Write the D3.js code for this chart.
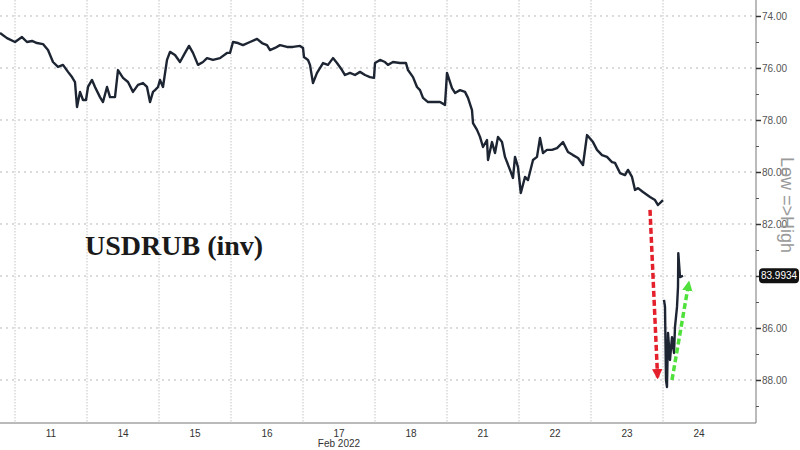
<!DOCTYPE html>
<html><head><meta charset="utf-8">
<script src="https://cdn.jsdelivr.net/npm/d3@7"></script>
<style>body{margin:0;background:#fff}svg{display:block}</style></head>
<body>
<svg id="c" width="800" height="450"></svg>
<script>
// ---- data ----
const dayLabels = ["11","14","15","16","17","18","21","22","23","24"];
const yTicks = [74,76,78,80,82,84,86,88];
const yMinor = [75,77,79,81,83,85,87,89];
const lastValue = 83.9934;
// trading-hours since Feb 11 00:00 (each trading day = 24 h on the axis)
const hours = [-5,-2.67,0,2.33,4,5.67,7.33,9.33,11,12.67,14.33,16,17.67,19,20,20.67,21.67,22.67,23.67,
  24.33,25.67,26.67,28.33,29.33,30.67,31.67,33.33,34.33,36,37.67,39.33,41,42.67,44,45,46,46.67,47.67,
  48.33,49.33,50.67,51.67,53.33,55,56.67,58,59.33,61,62.67,64,66,68.33,70.67,71.67,
  72.67,74.33,76,78.33,80.67,82.33,84,85,86.67,88.33,90.67,92.67,95,
  96,96.33,97.67,98.33,99.33,100.67,102.67,104.33,106,107.33,109,110,111.67,113.33,115,116.67,118.33,119.67,
  120,121.67,123.33,124.33,126,128.33,130.33,131,132.67,134,135,136,137.67,139.33,141.67,143.33,
  144,145.67,146.67,148.33,150,151,152.33,152.67,154,155,156,157.33,157.67,159,160,161,162.33,163.33,165,166,166.67,167.67,
  168.6,170,171,172.67,174,175,176,177.33,179,180.67,182.67,184.33,186,187.67,189.33,190.67,
  192.67,194,195.67,197.33,199,200,201.67,203.33,204.33,205.67,206.67,207.67,209.33,211.67,213.33,214.33,216,
  216.1,
  216.33,216.67,217,217.33,217.67,218.33,219,219.67,220,220.67,221,221.1,221.67,222.67];
const usdrub = [74.65,74.85,75.00,74.81,75.00,74.96,75.04,75.08,75.31,75.77,75.96,75.88,76.15,76.35,76.54,77.50,76.92,77.23,77.23,
  76.73,76.46,76.73,77.12,77.31,76.73,77.12,77.12,76.08,76.38,76.54,76.92,76.65,76.58,76.73,77.31,76.92,76.85,76.73,
  76.46,76.73,75.69,75.38,75.50,75.77,75.42,75.15,75.42,75.88,75.77,75.62,75.69,75.62,75.42,75.42,
  75.00,75.04,75.12,75.00,74.88,75.04,75.12,75.31,75.23,75.12,75.19,75.19,75.15,
  75.23,75.58,75.69,75.88,76.58,76.19,75.81,75.88,75.62,75.81,76.08,76.27,76.19,76.27,76.15,76.27,76.35,76.38,
  75.81,75.69,75.77,75.88,75.77,75.81,75.81,76.08,76.35,76.73,76.85,77.15,77.31,77.31,77.31,77.42,
  76.19,76.77,76.96,76.85,76.92,77.15,77.62,78.12,78.38,78.65,79.04,78.77,79.54,78.85,79.27,78.65,78.85,79.42,79.92,80.23,79.42,79.81,
  80.81,80.19,80.31,79.54,79.42,78.69,79.27,79.15,79.15,79.08,78.85,79.23,79.35,79.46,79.73,78.58,
  78.85,79.15,79.35,79.42,79.62,79.65,80.04,80.12,79.92,80.19,80.69,80.62,80.77,80.96,81.08,81.27,81.08,
  null,
  84.92,85.19,88.00,88.27,86.19,87.23,86.35,86.96,85.96,85.19,84.42,83.12,84.04,83.99];
const redArrow = [[211.67,81.46],[214.2,87.9]];
const greenArrow = [[219,88.0],[224.6,84.25]];

// ---- layout ----
const W = 800, H = 450;
const plotR = 756, plotB = 423;
const svg = d3.select("#c");
const x = d3.scaleLinear().domain([-5, 247]).range([0, plotR]);
const y = d3.scaleLinear().domain([73.385, 89.654]).range([0, plotB]);
const dayBounds = d3.range(0, dayLabels.length).map(i => i * 24);

// grid
svg.append("g").selectAll("line").data(yTicks).join("line")
  .attr("x1", 0).attr("x2", plotR).attr("y1", d => y(d)).attr("y2", d => y(d))
  .attr("stroke", "#b8b8b8").attr("stroke-dasharray", "2,4").attr("stroke-width", 1);
svg.append("g").selectAll("line").data(dayBounds).join("line")
  .attr("x1", d => x(d)).attr("x2", d => x(d)).attr("y1", 0).attr("y2", plotB)
  .attr("stroke", "#c4c4c4").attr("stroke-dasharray", "1.5,1.5").attr("stroke-width", 1);

// series
const pts = hours.map((h, i) => [h, usdrub[i]]);
const line = d3.line().defined(d => d[1] != null).x(d => x(d[0])).y(d => y(d[1]));
svg.append("path").datum(pts).attr("d", line)
  .attr("fill", "none").attr("stroke", "#1d2533").attr("stroke-width", 2.4).attr("stroke-linejoin", "round");

// arrows
const defs = svg.append("defs");
function marker(id, color) {
  defs.append("marker").attr("id", id).attr("viewBox", "0 0 10 10").attr("refX", 8).attr("refY", 5)
    .attr("markerWidth", 3).attr("markerHeight", 3).attr("orient", "auto")
    .append("path").attr("d", "M0,0L10,5L0,10z").attr("fill", color);
}
marker("mr", "#e3202b"); marker("mg", "#4fe03c");
function arrow(a, color, id) {
  svg.append("line").attr("x1", x(a[0][0])).attr("y1", y(a[0][1])).attr("x2", x(a[1][0])).attr("y2", y(a[1][1]))
    .attr("stroke", color).attr("stroke-width", 3.5).attr("stroke-dasharray", "6,3")
    .attr("marker-end", `url(#${id})`);
}
arrow(redArrow, "#e3202b", "mr");
arrow(greenArrow, "#4fe03c", "mg");

// axes frame
svg.append("line").attr("x1", 0).attr("x2", plotR).attr("y1", plotB).attr("y2", plotB).attr("stroke", "#777");
svg.append("line").attr("x1", plotR).attr("x2", plotR).attr("y1", 0).attr("y2", plotB).attr("stroke", "#777");

// right axis
const fam = "'Liberation Sans Narrow','Liberation Sans',Arial,sans-serif";
const yAxis = d3.axisRight(y).tickValues(yTicks).tickSize(5).tickFormat(d => d === 84 ? "" : d3.format(".2f")(d));
const ga = svg.append("g").attr("transform", `translate(${plotR},0)`).call(yAxis);
ga.select(".domain").remove();
ga.selectAll(".tick line").attr("stroke", "#333").attr("stroke-width", 1.5);
ga.selectAll(".tick text").attr("x", 6).attr("fill", "#555").style("font-family", fam).style("font-size", "10px");
const gm = svg.append("g").attr("transform", `translate(${plotR},0)`)
  .call(d3.axisRight(y).tickValues(yMinor).tickSize(3).tickFormat(""));
gm.select(".domain").remove();
gm.selectAll(".tick line").attr("stroke", "#555");

// last value box
const lv = svg.append("g").attr("transform", `translate(${plotR + 3},${y(lastValue)})`);
lv.append("rect").attr("x", 0).attr("y", -7.5).attr("width", 40).attr("height", 15).attr("rx", 4).attr("fill", "#111");
lv.append("text").attr("x", 20).attr("y", 3.5).attr("text-anchor", "middle").attr("fill", "#fff")
  .style("font-family", fam).style("font-size", "10px").text(d3.format(".4f")(lastValue));

// x labels
svg.append("g").selectAll("text").data(dayLabels).join("text")
  .attr("x", (d, i) => x(i * 24 + 12)).attr("y", 437).attr("text-anchor", "middle")
  .attr("fill", "#333").style("font-family", fam).style("font-size", "10px").text(d => d);
svg.append("text").attr("x", x(4 * 24 + 12)).attr("y", 447).attr("text-anchor", "middle")
  .attr("fill", "#333").style("font-family", fam).style("font-size", "10px").text("Feb 2022");

// annotations
svg.append("text").attr("x", 85).attr("y", 255).attr("fill", "#1a1a1a")
  .style("font-family", "'Liberation Serif','Times New Roman',serif").style("font-size", "28px").style("font-weight", "bold")
  .text("USDRUB (inv)");
svg.append("text").attr("transform", "translate(781,205) rotate(90)").attr("text-anchor", "middle")
  .attr("fill", "#9a9a9a").style("font-family", "'Liberation Sans',Arial,sans-serif").style("font-size", "18px")
  .text("Low =>High");
</script>
</body></html>
